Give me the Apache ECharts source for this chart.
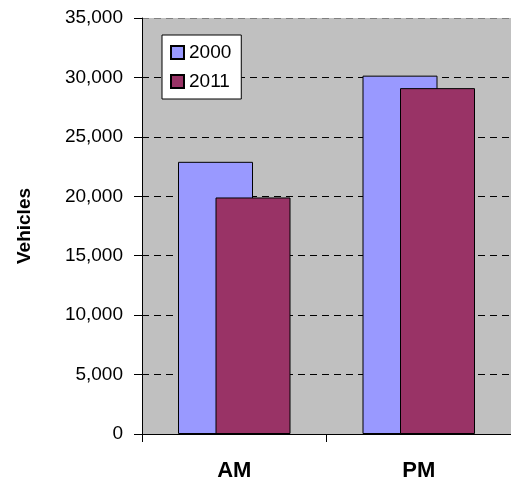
<!DOCTYPE html>
<html>
<head>
<meta charset="utf-8">
<script src="https://cdn.jsdelivr.net/npm/echarts@6/dist/echarts.min.js"></script>
<style>
  html, body { margin: 0; padding: 0; background: #fff; }
  #chart { width: 511px; height: 482px; }
</style>
</head>
<body>
<div id="chart"></div>
<script>
// data
var categories = ['AM', 'PM'];
var years = ['2000', '2011'];
var vehicles2000 = [22900, 30150];
var vehicles2011 = [19900, 29100];

var myChart = echarts.init(document.getElementById('chart'));

var option = {
    "backgroundColor": "#ffffff",
    "textStyle": { "fontFamily": "Liberation Sans, Arial, sans-serif" },
    "grid": {
        "left": 142,
        "top": 18,
        "width": 374,
        "height": 417,
        "show": true,
        "backgroundColor": "#c0c0c0",
        "borderWidth": 0
    },
    "legend": {
        "data": years,
        "orient": "vertical",
        "left": 162,
        "top": 35,
        "backgroundColor": "#ffffff",
        "borderColor": "#000000",
        "borderWidth": 1,
        "padding": [8, 10, 8, 8],
        "itemWidth": 13,
        "itemHeight": 13,
        "itemGap": 10,
        "icon": "rect",
        "textStyle": { "fontSize": 19, "color": "#000" }
    },
    "xAxis": {
        "type": "category",
        "data": categories,
        "axisLine": { "lineStyle": { "color": "#000", "width": 1 } },
        "axisTick": { "show": true, "length": 8, "lineStyle": { "color": "#000" } },
        "axisLabel": { "fontSize": 22, "fontWeight": "bold", "color": "#000", "margin": 26 }
    },
    "yAxis": {
        "type": "value",
        "min": 0,
        "max": 35000,
        "interval": 5000,
        "name": "Vehicles",
        "nameLocation": "middle",
        "nameGap": 108,
        "nameTextStyle": { "fontSize": 19, "fontWeight": "bold", "color": "#000" },
        "axisLine": { "show": true, "lineStyle": { "color": "#000", "width": 1 } },
        "axisTick": { "show": true, "length": 8, "lineStyle": { "color": "#000" } },
        "axisLabel": {
            "fontSize": 19,
            "color": "#000",
            "margin": 19,
            "formatter": function (v) { return v.toLocaleString('en-US'); }
        },
        "splitLine": {
            "show": true,
            "lineStyle": {
                "type": [7, 5],
                "color": ['#000', '#000', '#000', '#000', '#000', '#000', '#000', '#808080']
            }
        }
    },
    "series": [
        {
            "name": years[0],
            "type": "bar",
            "data": vehicles2000,
            "barWidth": 75,
            "barGap": "-50%",
            "itemStyle": { "color": "#9999ff", "borderColor": "#000", "borderWidth": 1 }
        },
        {
            "name": years[1],
            "type": "bar",
            "data": vehicles2011,
            "barWidth": 75,
            "barGap": "-50%",
            "itemStyle": { "color": "#993366", "borderColor": "#000", "borderWidth": 1 }
        }
    ]
};
myChart.setOption(option);
</script>
</body>
</html>
